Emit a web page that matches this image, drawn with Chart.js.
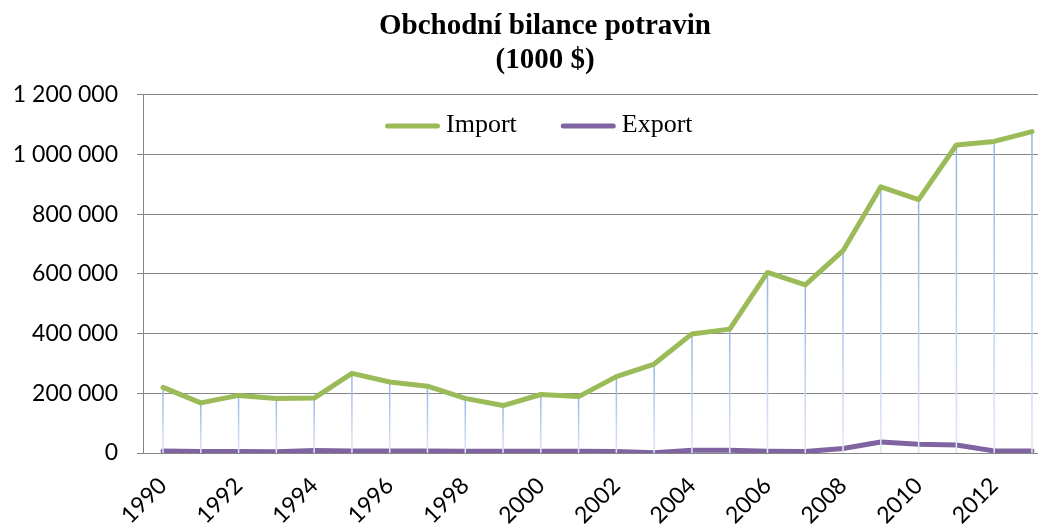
<!DOCTYPE html>
<html>
<head>
<meta charset="utf-8">
<script src="https://cdn.jsdelivr.net/npm/chart.js@4/dist/chart.umd.min.js"></script>
<style>
  html, body { margin: 0; padding: 0; background: #ffffff; }
  canvas { display: block; }
</style>
</head>
<body>
<canvas id="c" width="1038" height="527"></canvas>
<script>
const titleLines = ['Obchodní bilance potravin', '(1000 $)'];
const seriesNames = ['Import', 'Export'];
const years = [1990, 1991, 1992, 1993, 1994, 1995, 1996, 1997, 1998, 1999, 2000, 2001,
               2002, 2003, 2004, 2005, 2006, 2007, 2008, 2009, 2010, 2011, 2012, 2013];
const importValues = [220000, 168000, 193000, 183000, 184000, 267000, 238000, 224000, 183000, 159000, 196000, 189000,
                      256000, 298000, 399000, 415000, 605000, 563000, 678000, 892000, 849000, 1032000, 1044000, 1077000];
const exportValues = [7000, 5000, 5000, 4000, 8000, 7000, 7000, 7000, 6000, 6000, 6000, 6000,
                      5000, 1000, 9000, 9000, 6000, 5000, 15000, 37000, 29000, 27000, 7000, 7000];
const yTickStep = 200000;
const yMax = 1200000;
const xTickStep = 2;

const SANS = 'Lato, "Liberation Sans", sans-serif';
const SERIF = '"Liberation Serif", "Times New Roman", serif';
const GRID = '#868686';
const IMPORT_COLOR = '#9bbb59';
const EXPORT_COLOR = '#8064a2';

function fmtThousands(v) {
  return String(Math.round(v)).replace(/\B(?=(\d{3})+(?!\d))/g, ' ');
}

// drop lines from Import points to the category axis, drawn under the Import line
const dropLinesPlugin = {
  id: 'dropLines',
  afterDatasetDraw(chart, args) {
    if (args.index !== 1) return;
    const meta = chart.getDatasetMeta(0);
    const yBase = chart.scales.y.getPixelForValue(0);
    const ctx = chart.ctx;
    ctx.save();
    ctx.lineWidth = 1.5;
    meta.data.forEach(pt => {
      const g = ctx.createLinearGradient(0, pt.y, 0, yBase);
      g.addColorStop(0, '#97b5e6');
      g.addColorStop(1, '#dfe8f6');
      ctx.strokeStyle = g;
      ctx.beginPath();
      ctx.moveTo(pt.x, pt.y);
      ctx.lineTo(pt.x, yBase);
      ctx.stroke();
    });
    ctx.restore();
  }
};

// centre the title like the reference (offset from the canvas centre)
const titlePlacePlugin = {
  id: 'titlePlace',
  beforeDraw(chart) {
    const t = chart.titleBlock;
    if (!t) return;
    t.left = 52;
    t.right = chart.width;
  }
};

// legend drawn inside the plot area, as in the reference
const insideLegendPlugin = {
  id: 'insideLegend',
  afterDraw(chart) {
    const ctx = chart.ctx;
    const y = 126;
    let x = 385;
    const sample = 55, gapText = 6, gapItem = 44;
    ctx.save();
    ctx.font = '26px ' + SERIF;
    ctx.textBaseline = 'middle';
    ctx.textAlign = 'left';
    chart.data.datasets.forEach(ds => {
      ctx.strokeStyle = ds.borderColor;
      ctx.lineWidth = 5;
      ctx.lineCap = 'round';
      ctx.beginPath();
      ctx.moveTo(x + 2.5, y);
      ctx.lineTo(x + sample - 2.5, y);
      ctx.stroke();
      ctx.fillStyle = '#000';
      const tx = x + sample + gapText;
      ctx.fillText(ds.label, tx, y - 1);
      x = tx + ctx.measureText(ds.label).width + gapItem;
    });
    ctx.restore();
  }
};

const ctx = document.getElementById('c').getContext('2d');
new Chart(ctx, {
  type: 'line',
  data: {
    datasets: [
      {
        label: seriesNames[0],
        data: years.map((y, i) => ({ x: y, y: importValues[i] })),
        borderColor: IMPORT_COLOR,
        backgroundColor: IMPORT_COLOR,
        borderWidth: 5,
        pointRadius: 0,
        borderJoinStyle: 'round',
        borderCapStyle: 'round',
        tension: 0,
        fill: false
      },
      {
        label: seriesNames[1],
        data: years.map((y, i) => ({ x: y, y: exportValues[i] })),
        borderColor: EXPORT_COLOR,
        backgroundColor: EXPORT_COLOR,
        borderWidth: 5,
        pointRadius: 0,
        borderJoinStyle: 'round',
        borderCapStyle: 'round',
        tension: 0,
        fill: false
      }
    ]
  },
  options: {
    responsive: false,
    animation: false,
    events: [],
    layout: { padding: 0 },
    plugins: {
      title: {
        display: true,
        text: titleLines,
        color: '#000',
        font: { family: SERIF, size: 29, weight: 'bold', lineHeight: 1.17 },
        padding: { top: 10, bottom: 17 }
      },
      legend: { display: false },
      tooltip: { enabled: false }
    },
    scales: {
      x: {
        type: 'linear',
        min: 1989.47,
        max: 2013.16,
        grid: { display: false, drawTicks: false },
        border: { display: true, color: GRID, width: 1 },
        ticks: {
          stepSize: xTickStep,
          includeBounds: false,
          autoSkip: false,
          minRotation: 45,
          maxRotation: 45,
          padding: 19,
          color: '#000',
          font: { family: SANS, size: 23 },
          callback: v => String(v)
        },
        afterFit(scale) { scale.height = 74; }
      },
      y: {
        min: 0,
        max: yMax,
        grid: { color: GRID, lineWidth: 1, tickLength: 6, drawTicks: true },
        border: { display: true, color: GRID, width: 1 },
        ticks: {
          stepSize: yTickStep,
          padding: 19,
          color: '#000',
          font: { family: SANS, size: 23 },
          callback: v => fmtThousands(v)
        },
        afterFit(scale) { scale.width = 143; }
      }
    }
  },
  plugins: [dropLinesPlugin, titlePlacePlugin, insideLegendPlugin]
});
</script>
</body>
</html>
